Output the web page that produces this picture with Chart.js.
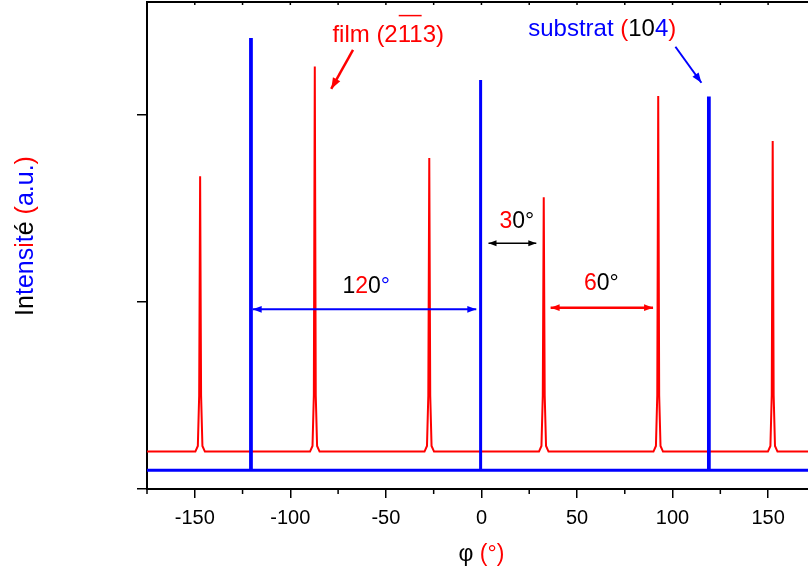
<!DOCTYPE html>
<html>
<head>
<meta charset="utf-8">
<title>Phi scan</title>
<script src="https://cdn.jsdelivr.net/npm/chart.js@4/dist/chart.umd.min.js"></script>
<style>
  html, body { margin: 0; padding: 0; background: #fff; overflow: hidden; }
  canvas { display: block; }
</style>
</head>
<body>
<canvas id="phiChart" width="853" height="571"></canvas>
<script>
/**
 * Phi scan: film (2-1-13) peaks vs substrate (104) peaks.
 * The plot runs past the right edge of the window on purpose (cropped like the figure).
 */

const RED = '#ff0000';
const BLUE = '#0000ff';
const FONT = '"Liberation Sans", Arial, sans-serif';

// film (2113) phi scan
const filmScan = [
  { x: -176, y: 0.2 },
  { x: -149.7, y: 0.2 }, { x: -148.4, y: 0.23 }, { x: -147.7, y: 0.5 }, { x: -147.2, y: 1.67 },
  { x: -146.7, y: 0.5 }, { x: -146.0, y: 0.23 }, { x: -144.7, y: 0.2 },
  { x: -89.7, y: 0.2 }, { x: -88.4, y: 0.23 }, { x: -87.7, y: 0.5 }, { x: -87.2, y: 2.255 },
  { x: -86.7, y: 0.5 }, { x: -86.0, y: 0.23 }, { x: -84.7, y: 0.2 },
  { x: -29.8, y: 0.2 }, { x: -28.5, y: 0.23 }, { x: -27.8, y: 0.5 }, { x: -27.3, y: 1.767 },
  { x: -26.8, y: 0.5 }, { x: -26.1, y: 0.23 }, { x: -24.8, y: 0.2 },
  { x: 30.1, y: 0.2 }, { x: 31.4, y: 0.23 }, { x: 32.1, y: 0.5 }, { x: 32.6, y: 1.557 },
  { x: 33.1, y: 0.5 }, { x: 33.8, y: 0.23 }, { x: 35.1, y: 0.2 },
  { x: 90.0, y: 0.2 }, { x: 91.3, y: 0.23 }, { x: 92.0, y: 0.5 }, { x: 92.5, y: 2.098 },
  { x: 93.0, y: 0.5 }, { x: 93.7, y: 0.23 }, { x: 95.0, y: 0.2 },
  { x: 149.9, y: 0.2 }, { x: 151.2, y: 0.23 }, { x: 151.9, y: 0.5 }, { x: 152.4, y: 1.858 },
  { x: 152.9, y: 0.5 }, { x: 153.6, y: 0.23 }, { x: 154.9, y: 0.2 },
  { x: 186, y: 0.2 }
];

// substrate (104) phi scan
const substrateScan = [
  { x: -176, y: 0.1 },
  { x: -120.8, y: 0.1 }, { x: -120.8, y: 2.4 }, { x: -120.4, y: 2.4 }, { x: -120.4, y: 0.1 },
  { x: -0.7, y: 0.1 }, { x: -0.7, y: 2.184 }, { x: -0.3, y: 2.184 }, { x: -0.3, y: 0.1 },
  { x: 118.8, y: 0.1 }, { x: 118.8, y: 2.088 }, { x: 119.2, y: 2.088 }, { x: 119.2, y: 0.1 },
  { x: 186, y: 0.1 }
];

// axis ranges and ticks
const phiMin = -175;
const phiMax = 185;
const phiMajorTicks = [-150, -100, -50, 0, 50, 100, 150];
const phiMinorTicks = [-175, -125, -75, -25, 25, 75, 125, 175];
const intensityMax = 2.6;

// rich text pieces [text, colour]
const yTitle = [['In', '#000'], ['tens', BLUE], ['i', RED], ['t', BLUE], ['é', '#000'], [' ', '#000'],
  ['(', RED], ['a.u.', BLUE], [')', RED]];
const xTitle = [['φ ', '#000'], ['(°)', RED]];

// annotations in data units
const labels = [
  { parts: [['1', '#000'], ['2', RED], ['0', '#000'], ['°', BLUE]], x: -60.3, y: 1.045 },
  { parts: [['3', RED], ['0°', '#000']], x: 18.5, y: 1.392 },
  { parts: [['6', RED], ['0°', '#000']], x: 62.7, y: 1.062 },
  { parts: [['film (2', RED], ['11', RED, true], ['3)', RED]], x: -48.8, y: 2.389, size: 24 },
  { parts: [['substrat ', BLUE], ['(', RED], ['10', '#000'], ['4', BLUE], [')', RED]], x: 63.2, y: 2.419, size: 24 }
];
const arrows = [
  { from: [-119.7, 0.959], to: [-2.7, 0.959], both: true, color: BLUE, width: 2, head: 9 },
  { from: [3.7, 1.312], to: [28.7, 1.312], both: true, color: '#000', width: 1.3, head: 8 },
  { from: [36.2, 0.968], to: [89.8, 0.968], both: true, color: RED, width: 2.5, head: 9 },
  { from: [-67.2, 2.344], to: [-78.6, 2.136], both: false, color: RED, width: 2.5, head: 11 },
  { from: [101.5, 2.361], to: [115.1, 2.169], both: false, color: BLUE, width: 2, head: 10 }
];

function drawRich(ctx, parts, cx, baseline, size) {
  ctx.font = size + 'px ' + FONT;
  let total = 0;
  parts.forEach(p => { total += ctx.measureText(p[0]).width; });
  let x = cx - total / 2;
  ctx.textAlign = 'left';
  ctx.textBaseline = 'alphabetic';
  parts.forEach(p => {
    const w = ctx.measureText(p[0]).width;
    ctx.fillStyle = p[1];
    ctx.fillText(p[0], x, baseline);
    if (p[2]) {
      // overline for the negative Miller indices
      ctx.strokeStyle = p[1];
      ctx.lineWidth = 1.5;
      ctx.beginPath();
      ctx.moveTo(x + 1, baseline - size * 1.08);
      ctx.lineTo(x + w - 1, baseline - size * 1.08);
      ctx.stroke();
    }
    x += w;
  });
}

function arrowHead(ctx, x0, y0, x1, y1, len) {
  const a = Math.atan2(y1 - y0, x1 - x0);
  const half = len * 0.38;
  ctx.beginPath();
  ctx.moveTo(x1, y1);
  ctx.lineTo(x1 - len * Math.cos(a) + half * Math.sin(a), y1 - len * Math.sin(a) - half * Math.cos(a));
  ctx.lineTo(x1 - len * Math.cos(a) - half * Math.sin(a), y1 - len * Math.sin(a) + half * Math.cos(a));
  ctx.closePath();
  ctx.fill();
}

const decorations = {
  id: 'decorations',
  afterDraw(chart) {
    const ctx = chart.ctx;
    const xs = chart.scales.x;
    const ys = chart.scales.y;
    const area = chart.chartArea;
    ctx.save();

    // top frame line with small inward ticks
    ctx.strokeStyle = '#000';
    ctx.lineWidth = 2;
    ctx.beginPath();
    ctx.moveTo(area.left - 1, area.top);
    ctx.lineTo(chart.width, area.top);
    ctx.stroke();
    ctx.lineWidth = 1.5;
    phiMajorTicks.concat(phiMinorTicks).forEach(v => {
      const px = xs.getPixelForValue(v);
      ctx.beginPath();
      ctx.moveTo(px, area.top);
      ctx.lineTo(px, area.top + 3);
      ctx.stroke();
    });

    // minor ticks on the bottom axis
    phiMinorTicks.forEach(v => {
      const px = xs.getPixelForValue(v);
      ctx.beginPath();
      ctx.moveTo(px, area.bottom);
      ctx.lineTo(px, area.bottom + 5);
      ctx.stroke();
    });

    // arrows
    arrows.forEach(a => {
      const x0 = xs.getPixelForValue(a.from[0]), y0 = ys.getPixelForValue(a.from[1]);
      const x1 = xs.getPixelForValue(a.to[0]), y1 = ys.getPixelForValue(a.to[1]);
      ctx.strokeStyle = a.color;
      ctx.fillStyle = a.color;
      ctx.lineWidth = a.width;
      ctx.beginPath();
      ctx.moveTo(x0, y0);
      ctx.lineTo(x1, y1);
      ctx.stroke();
      arrowHead(ctx, x0, y0, x1, y1, a.head);
      if (a.both) arrowHead(ctx, x1, y1, x0, y0, a.head);
    });

    // annotation labels
    labels.forEach(l => {
      drawRich(ctx, l.parts, xs.getPixelForValue(l.x), ys.getPixelForValue(l.y), l.size || 23);
    });

    // axis titles
    drawRich(ctx, xTitle, xs.getPixelForValue(0), 561, 23);
    ctx.translate(33, 236);
    ctx.rotate(-Math.PI / 2);
    drawRich(ctx, yTitle, 0, 0, 25);
    ctx.restore();
  }
};

new Chart(document.getElementById('phiChart'), {
  type: 'line',
  data: {
    datasets: [
      {
        label: 'film',
        data: filmScan,
        borderColor: RED,
        borderWidth: 2,
        pointRadius: 0,
        tension: 0,
        order: 1
      },
      {
        label: 'substrat',
        data: substrateScan,
        borderColor: BLUE,
        borderWidth: 3,
        pointRadius: 0,
        tension: 0,
        order: 0
      }
    ]
  },
  options: {
    responsive: false,
    animation: false,
    events: [],
    layout: { padding: { top: 2, right: 18, left: 0, bottom: 0 } },
    plugins: {
      legend: { display: false },
      tooltip: { enabled: false }
    },
    scales: {
      x: {
        type: 'linear',
        min: phiMin,
        max: phiMax,
        afterFit: s => { s.height = 82; },
        border: { color: '#000', width: 2 },
        grid: { drawOnChartArea: false, tickColor: '#000', lineWidth: 1.5, tickLength: 9 },
        ticks: {
          stepSize: 50,
          includeBounds: false,
          color: '#000',
          padding: 8,
          maxRotation: 0,
          font: { family: FONT, size: 20 }
        }
      },
      y: {
        min: 0,
        max: intensityMax,
        afterFit: s => { s.width = 147; },
        border: { color: '#000', width: 2 },
        grid: { drawOnChartArea: false, tickColor: '#000', lineWidth: 1.5, tickLength: 10 },
        ticks: { stepSize: 1, includeBounds: false, display: false }
      }
    }
  },
  plugins: [decorations]
});
</script>
</body>
</html>
